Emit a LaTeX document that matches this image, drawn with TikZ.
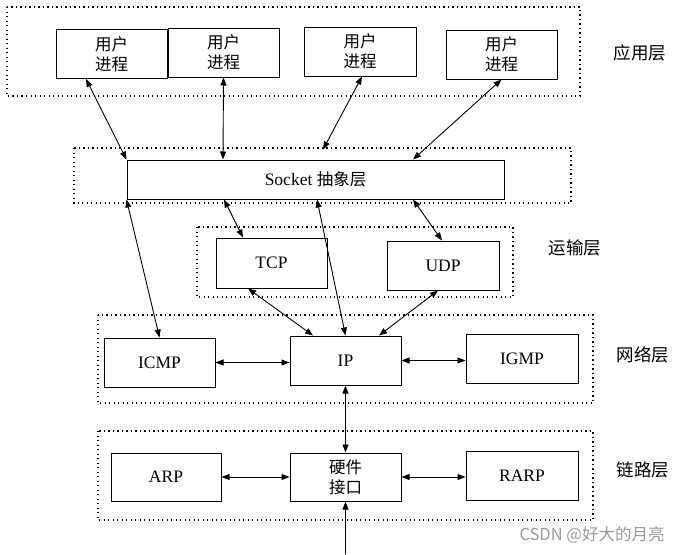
\documentclass[tikz,border=0pt]{standalone}
\usepackage{fontspec}
\setmainfont{Liberation Serif}
\newfontfamily\cjk{Noto Sans CJK SC}
\usetikzlibrary{calc}
\usetikzlibrary{arrows.meta}

\begin{document}
\begin{tikzpicture}[x=1pt, y=-1pt]
        % ================= 样式定义 =================
        \tikzset{
            % 协议方框:白底黑边矩形
            pbox/.style={draw=black, line width=1pt, fill=white, inner sep=0pt, minimum width=111pt, minimum height=49pt, align=center, font=\fontsize{17.5}{20}\selectfont},
            % 方框内的中文
            zhbox/.style={font=\cjk\fontsize{16.5}{20}\selectfont},
            % 每一层的虚线框
            layerbox/.style={line width=1.1pt, dash pattern=on 1.3pt off 3.2pt},
            % 双向箭头与单向箭头
            dlink/.style={line width=0.9pt, {Triangle[length=8pt,width=6pt]}-{Triangle[length=8pt,width=6pt]}},
            ulink/.style={line width=0.9pt, -{Triangle[length=8pt,width=6pt]}},
            % 右侧层名
            tag/.style={font=\cjk\fontsize{17.5}{20}\selectfont}
        }
        \useasboundingbox (0,0) rectangle (690,554);

        % ================= 1. 各层虚线框 =================
        \draw[layerbox] (7,7) rectangle (580,96);
        \draw[layerbox] (74,148) rectangle (571,203);
        \draw[layerbox] (197,227) rectangle (513,297);
        \draw[layerbox] (98,315) rectangle (593,403);
        \draw[layerbox] (98,431) rectangle (593,520);

        % ================= 2. 协议方框 =================
        % 应用层:四个用户进程
        \node[pbox, zhbox] (p1) at (111.5,54) {用户\\进程};
        \node[pbox, zhbox] (p2) at (223.5,52.5) {用户\\进程};
        \node[pbox, zhbox, minimum width=112pt] (p3) at (360,51.5) {用户\\进程};
        \node[pbox, zhbox] (p4) at (501.5,54.5) {用户\\进程};

        % Socket 抽象层
        \node[pbox, minimum width=377pt, minimum height=39pt] (sock) at (315.5,179.5) {Socket {\cjk\fontsize{16.5}{20}\selectfont 抽象层}};

        % 运输层
        \node[pbox, minimum height=50pt] (tcp) at (271.5,263) {TCP};
        \node[pbox, minimum width=112pt] (udp) at (443,265.5) {UDP};

        % 网络层
        \node[pbox] (icmp) at (159.5,362.5) {ICMP};
        \node[pbox] (ip) at (345.5,360.5) {IP};
        \node[pbox, minimum width=112pt] (igmp) at (522,358.5) {IGMP};

        % 链路层
        \node[pbox, minimum width=110pt, minimum height=48pt] (arp) at (166,477) {ARP};
        \node[pbox, zhbox, minimum height=48pt] (hw) at (345.5,477) {硬件\\接口};
        \node[pbox, minimum width=112pt] (rarp) at (522,475.5) {RARP};

        % ================= 3. 层名 =================
        \node[tag] (lapp) at (640,53) {应用层};
        \node[tag] (ltrans) at (575,248) {运输层};
        \node[tag] (lnet) at (643,355) {网络层};
        \node[tag] (llink) at (643,470) {链路层};

        % ================= 4. 连接箭头 =================
        % 用户进程 <-> Socket
        \draw[dlink] ([xshift=-25.5pt]p1.south) -- (sock.north west);
        \draw[dlink] (p2.south) -- ([xshift=-92.5pt]sock.north);
        \draw[dlink] ([xshift=2pt]p3.south) -- ([xshift=7.5pt,yshift=10pt]sock.north);
        \draw[dlink] (p4.south) -- ([xshift=97.5pt]sock.north);

        % Socket <-> 下层
        \draw[dlink] (sock.south west) -- (icmp.north);
        \draw[dlink] ([xshift=-91.5pt]sock.south) -- ([xshift=-28.5pt]tcp.north);
        \draw[dlink] ([xshift=1.5pt]sock.south) -- (ip.north);
        \draw[dlink] ([xshift=97.5pt]sock.south) -- ([xshift=-1pt]udp.north);

        % 运输层 <-> IP
        \draw[dlink] ([xshift=-23.5pt]tcp.south) -- ([xshift=-32.5pt]ip.north);
        \draw[dlink] ([xshift=-5pt]udp.south) -- ([xshift=33.5pt]ip.north);

        % 网络层内部
        \draw[dlink] (icmp.east) -- (icmp.east -| ip.west);
        \draw[dlink] (ip.east) -- (ip.east -| igmp.west);
        \draw[dlink] (ip.south) -- (hw.north);

        % 链路层内部
        \draw[dlink] (arp.east) -- (hw.west);
        \draw[dlink] (hw.east) -- (hw.east -| rarp.west);

        % 来自下方的输入
        \coordinate (feed) at (345.5,554);
        \draw[ulink] (feed) -- (hw.south);

        % 水印
        \node[font=\cjk\fontsize{16.5}{18}\selectfont, text=black!40] (mark) at (592,535) {CSDN @好大的月亮};

    \end{tikzpicture}
\end{document}
